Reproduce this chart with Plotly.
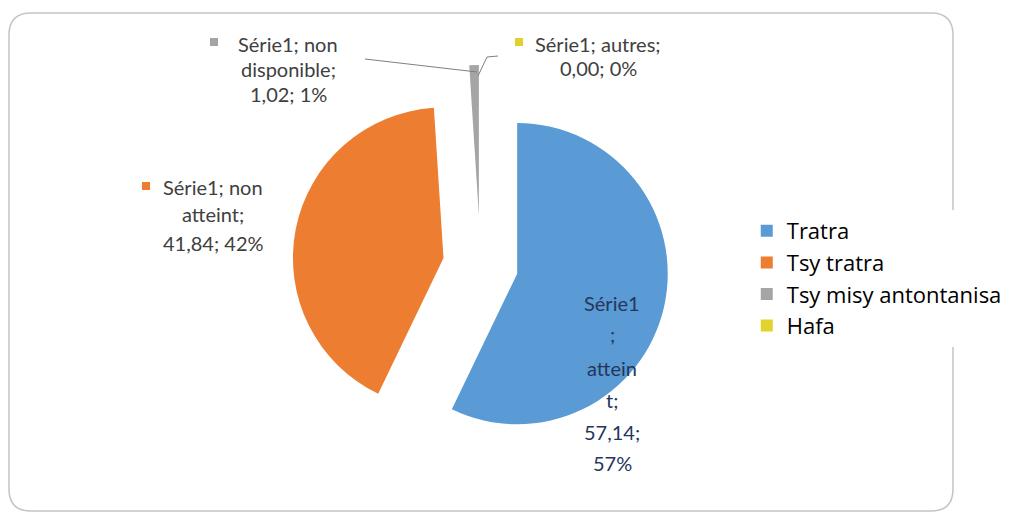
import plotly.graph_objects as go

W, H = 1016, 513

# donnees
serie = "Série1"
categories = ["atteint", "non atteint", "non disponible", "autres"]
legende = ["Tratra", "Tsy tratra", "Tsy misy antontanisa", "Hafa"]
valeurs = [57.14, 41.84, 1.02, 0.00]
couleurs = ["#5B9BD5", "#ED7D31", "#A5A5A5", "#E3D22B"]
ecarts = [0.25, 0.25, 0.33, 0.0]

total = sum(valeurs)


def fmt(v):
    return f"{v:.2f}".replace(".", ",")


def pct(v):
    return f"{round(v / total * 100)}%"


def px(x, y):
    return x / W, 1 - y / H


fig = go.Figure(go.Pie(
    labels=legende,
    values=valeurs,
    sort=False,
    direction="clockwise",
    rotation=0,
    pull=ecarts,
    textinfo="none",
    hoverinfo="label+value+percent",
    marker=dict(colors=couleurs, line=dict(width=0)),
    domain=dict(x=[0.2229, 0.7229], y=[0.0925, 0.8733]),
))

annotations = []
shapes = []


def bloc(lignes, cx, ys, couleur="#404040", taille=20):
    for ligne, y in zip(lignes, ys):
        ax, ay = px(cx, y)
        annotations.append(dict(x=ax, y=ay, xref="paper", yref="paper",
                                text=ligne, showarrow=False,
                                xanchor="center", yanchor="middle",
                                font=dict(family="Lato", size=taille, color=couleur)))


def carre(x, y, couleur, c=8):
    x0, y0 = px(x - c / 2, y + c / 2)
    x1, y1 = px(x + c / 2, y - c / 2)
    shapes.append(dict(type="rect", xref="paper", yref="paper", x0=x0, y0=y0,
                       x1=x1, y1=y1, fillcolor=couleur, line=dict(width=0)))


def trait(points):
    chemin = ""
    for i, (x, y) in enumerate(points):
        a, b = px(x, y)
        chemin += ("M" if i == 0 else "L") + f"{a},{b} "
    shapes.append(dict(type="path", xref="paper", yref="paper", path=chemin,
                       line=dict(color="#7F7F7F", width=1)))


# etiquettes de donnees
v = valeurs
bloc([f"{serie}", ";", "attein", "t;", f"{fmt(v[0])};", pct(v[0])],
     612, [303, 334, 368, 400, 432, 463], couleur="#26365A")
bloc([f"{serie}; non", "atteint;", f"{fmt(v[1])}; {pct(v[1])}"], 213, [187, 214, 243])
carre(146, 186, couleurs[1])
bloc([f"{serie}; non", "disponible;", f"{fmt(v[2])}; {pct(v[2])}"], 288, [44, 69, 94])
carre(214, 42, couleurs[2])
bloc([f"{serie}; autres;", f"{fmt(v[3])}; {pct(v[3])}"], 598, [44, 68])
carre(519, 42, couleurs[3])

trait([(365, 59), (477, 72)])
trait([(478, 76), (487, 57), (498, 56)])

# cadre arrondi
xg, xd = 9 / W, 953 / W
yh, yb = 1 - 13 / H, 1 - 511 / H
rx, ry = 22 / W, 22 / H
cadre = (f"M{xg + rx},{yh} L{xd - rx},{yh} Q{xd},{yh} {xd},{yh - ry} "
         f"L{xd},{yb + ry} Q{xd},{yb} {xd - rx},{yb} L{xg + rx},{yb} "
         f"Q{xg},{yb} {xg},{yb + ry} L{xg},{yh - ry} Q{xg},{yh} {xg + rx},{yh} Z")
shapes.append(dict(type="path", xref="paper", yref="paper", path=cadre,
                   layer="below", line=dict(color="#C4C4C4", width=1.5)))

fig.update_layout(
    width=W, height=H,
    margin=dict(l=0, r=0, t=0, b=0),
    paper_bgcolor="white",
    plot_bgcolor="white",
    showlegend=True,
    legend=dict(x=0.735, y=0.5906, xanchor="left", yanchor="top",
                bgcolor="white", font=dict(family="Open Sans", size=22, color="black")),
    annotations=annotations,
    shapes=shapes,
)

fig.write_html("out.html", config={"displayModeBar": False},
               post_script="document.body.style.margin='0';")
